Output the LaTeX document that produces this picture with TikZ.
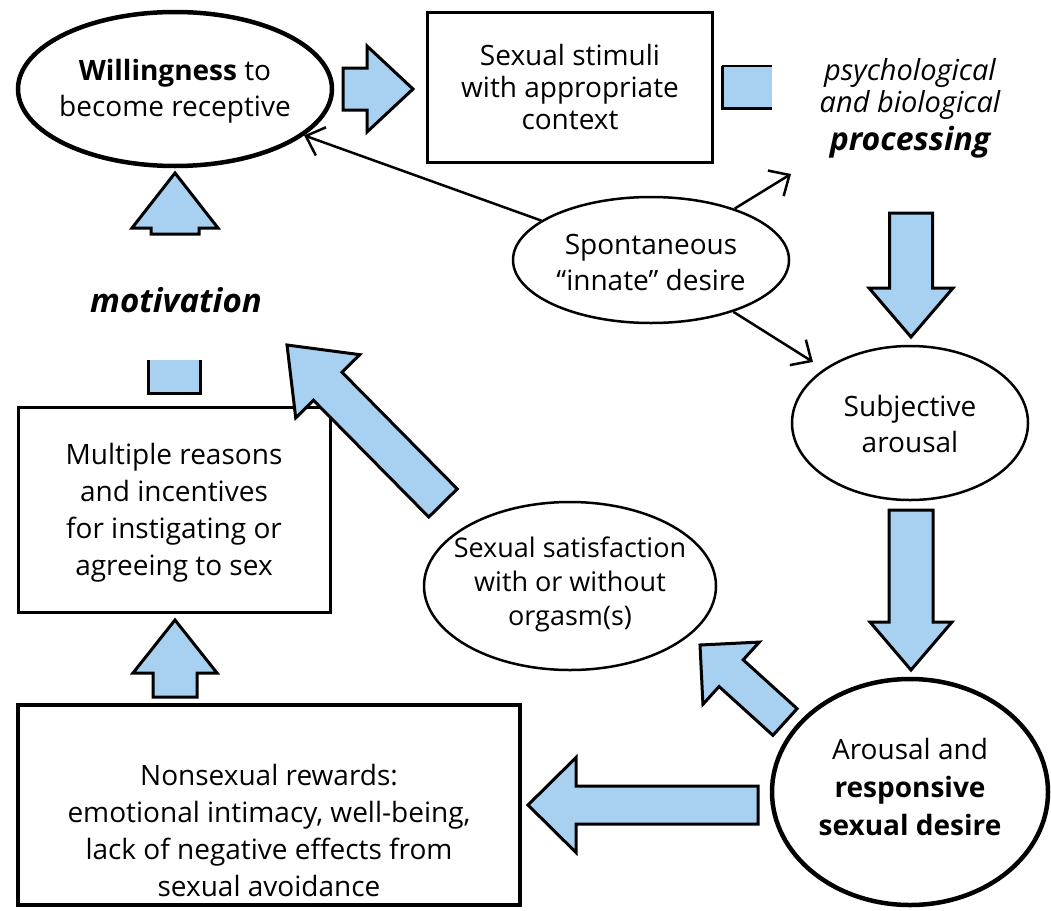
\documentclass[tikz,border=0pt]{standalone}
\usepackage{fontspec}
\setmainfont{Open Sans}
\usetikzlibrary{calc,arrows.meta,shapes.geometric}
\definecolor{arrowblue}{RGB}{168,208,240}
\tikzset{
  ell/.style={draw, ellipse, inner sep=0pt, line width=2.5pt},
  thickell/.style={ell, line width=4.5pt},
  rbox/.style={draw, rectangle, inner sep=0pt, line width=3pt},
  thickbox/.style={rbox, line width=4.5pt},
  barrow/.style={draw, fill=arrowblue, line width=3pt, line join=miter},
  conn/.style={line width=2.5pt, -{Straight Barb[length=16pt,width=30pt]}},
  txt/.style={align=center, inner sep=0pt, font=\fontsize{28}{36}\selectfont}
}
\newcommand\blockarrow[5]{%
  \coordinate (bab) at ($(#2)!#5!(#1)$);
  \draw[barrow] ($(#1)!#3/2!90:(#2)$) -- ($(bab)!#3/2!90:(#2)$) -- ($(bab)!#4/2!90:(#2)$) -- (#2) -- ($(bab)!#4/2!-90:(#2)$) -- ($(bab)!#3/2!-90:(#2)$) -- ($(#1)!#3/2!-90:(#2)$) -- cycle;}
\begin{document}
\begin{tikzpicture}[x=1pt,y=-1pt]
\useasboundingbox (0,0) rectangle (1051,910);
\fill[white] (0,0) rectangle (1051,910);

% main shapes
\node[thickell, minimum width=314pt, minimum height=154pt] (will) at (175,89) {};
\node[txt] (willt) at (175,91) {\textbf{Willingness} to\\become receptive};

\node[rbox, minimum width=285pt, minimum height=150pt] (stim) at (570,87) {};
\node[txt, font=\fontsize{28}{32}\selectfont] (stimt) at (570,87) {Sexual stimuli\\with appropriate\\context};

\node[txt, font=\fontsize{29}{32}\selectfont\itshape] (proc) at (910,108) {psychological\\and biological\\[6pt]{\bfseries\fontsize{32}{32}\selectfont processing}};

\node[ell, minimum width=276pt, minimum height=126pt] (sp) at (651,260) {};
\node[txt] (spt) at (651,262) {Spontaneous\\“innate” desire};

\node[ell, minimum width=236pt, minimum height=154pt] (subj) at (910,423) {};
\node[txt] (subjt) at (910,424) {Subjective\\arousal};

\node[thickell, minimum width=276pt, minimum height=226pt] (arous) at (910,792) {};
\node[txt, font=\fontsize{28}{38}\selectfont] (aroust) at (910,787) {Arousal and\\\textbf{responsive}\\\textbf{sexual desire}};

\node[ell, minimum width=292pt, minimum height=168pt] (sat) at (570,586) {};
\node[txt, font=\fontsize{27}{34}\selectfont] (satt) at (570,584) {Sexual satisfaction\\with or without\\orgasm(s)};

\node[txt, font=\fontsize{33}{34}\selectfont\bfseries\itshape] (motiv) at (176,300) {motivation};

\node[rbox, minimum width=312pt, minimum height=205pt] (mult) at (174,510) {};
\node[txt, font=\fontsize{28}{37}\selectfont] (multt) at (174,513) {Multiple reasons\\and incentives\\for instigating or\\agreeing to sex};

\node[thickbox, minimum width=502pt, minimum height=200pt] (nons) at (269,805) {};
\node[txt, font=\fontsize{28}{37}\selectfont] (nonst) at (269,830) {Nonsexual rewards:\\emotional intimacy, well-being,\\lack of negative effects from\\sexual avoidance};

% thin connectors
\coordinate (ptip) at (791,174);
\draw[conn] (sp) -- (will);
\draw[conn] (sp) -- (ptip);
\draw[conn, shorten >=13pt] (sp) -- (subj);

% partial arrow shafts
\fill[arrowblue] (722,66) rectangle (772,108);
\draw[line width=3pt] (772,108) -- (722,108) -- (722,66);
\draw[line width=2pt] (722,66) -- (772,66);
\fill[arrowblue] (148,360) rectangle (200,393);
\draw[line width=3pt] (148,360) -- (148,393) -- (200,393) -- (200,360);

% block arrows
\coordinate (a1t) at (343,89);  \coordinate (a1h) at (413,89);
\blockarrow{a1t}{a1h}{42pt}{86pt}{46pt}
\coordinate (a2t) at (911,213); \coordinate (a2h) at (911,337);
\blockarrow{a2t}{a2h}{43pt}{84pt}{49pt}
\coordinate (a3t) at (911,510); \coordinate (a3h) at (911,670);
\blockarrow{a3t}{a3h}{44pt}{82pt}{48pt}
\coordinate (a4t) at (785,722); \coordinate (a4h) at (700,645);
\blockarrow{a4t}{a4h}{36pt}{84pt}{42pt}
\coordinate (a5t) at (758,805); \coordinate (a5h) at (528,805);
\blockarrow{a5t}{a5h}{38pt}{95pt}{48pt}
\coordinate (a6t) at (443,503); \coordinate (a6h) at (287,345);
\blockarrow{a6t}{a6h}{40pt}{90pt}{58pt}
\coordinate (a7t) at (175,234); \coordinate (a7h) at (175,173);
\blockarrow{a7t}{a7h}{48pt}{86pt}{55pt}
\coordinate (a8t) at (175,697); \coordinate (a8h) at (175,620);
\blockarrow{a8t}{a8h}{44pt}{84pt}{53pt}
\end{tikzpicture}
\end{document}
